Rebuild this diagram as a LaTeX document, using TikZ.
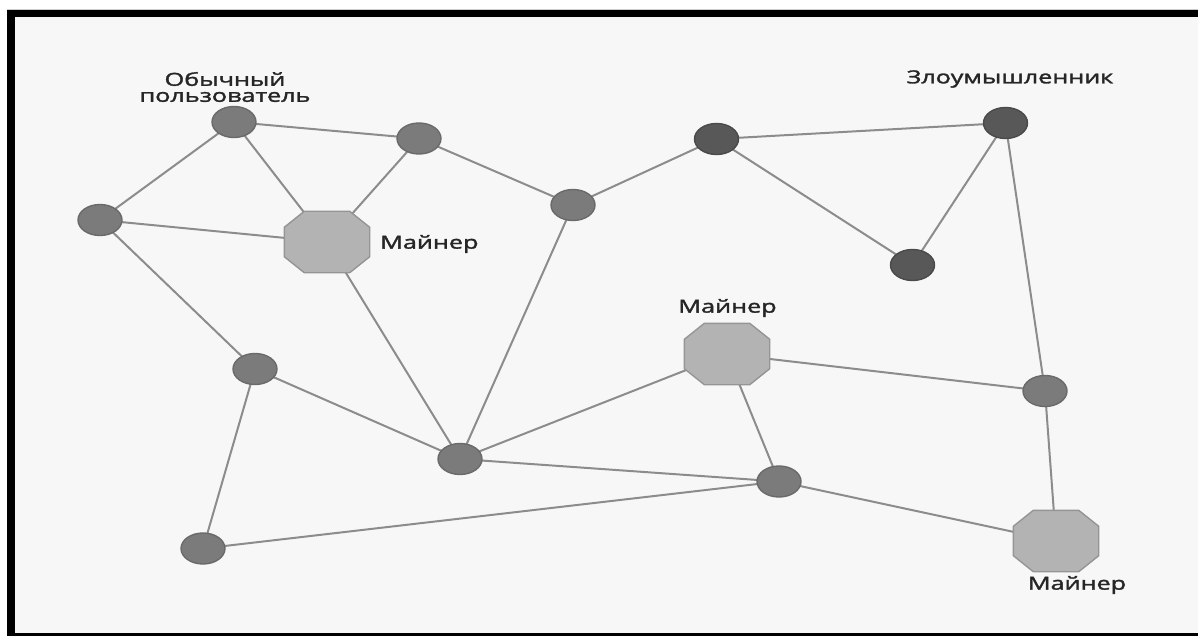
\documentclass[tikz,border=0pt]{standalone}
\usepackage{fontspec}
\setmainfont{Open Sans}
\newfontfamily\labelfont[FakeBold=1.6]{Open Sans}
\usepackage{graphicx}
\usetikzlibrary{shapes.geometric,backgrounds}

\definecolor{paper}{HTML}{F7F7F7}
\definecolor{peerfill}{HTML}{7B7B7B}
\definecolor{peerline}{HTML}{6A6A6A}
\definecolor{evilfill}{HTML}{585858}
\definecolor{evilline}{HTML}{4A4A4A}
\definecolor{minefill}{HTML}{B3B3B3}
\definecolor{mineline}{HTML}{959595}
\definecolor{linkc}{HTML}{8C8C8C}
\definecolor{inkc}{HTML}{262626}

\newcommand\widetext[1]{\scalebox{1.4}[1]{#1}}

\tikzset{
  peer/.style={ellipse, minimum width=44pt, minimum height=31pt, inner sep=0pt,
    fill=peerfill, draw=peerline, line width=1.4pt},
  evil/.style={peer, fill=evilfill, draw=evilline},
  miner/.style={rectangle, minimum width=85pt, minimum height=61pt, inner sep=0pt},
  octo/.style={fill=minefill, draw=mineline, line width=1.4pt, line join=round},
  link/.style={draw=linkc, line width=2pt},
  tag/.style={text=inkc, font=\labelfont\fontsize{18}{16}\selectfont, inner sep=0pt}
}

\begin{document}
\begin{tikzpicture}[x=1pt,y=-1pt]
  \useasboundingbox (0,0) rectangle (1198,636);

  % ordinary peers
  \node[peer] (u) at (234,122) {};
  \node[peer] (a) at (419,138.5) {};
  \node[peer] (l) at (100,220) {};
  \node[peer] (b) at (573,205) {};
  \node[peer] (f) at (1045,391) {};
  \node[peer] (g) at (255,369) {};
  \node[peer] (h) at (460,459) {};
  \node[peer] (i) at (779,481.5) {};
  \node[peer] (j) at (203,548.5) {};
  % attacker's peers
  \node[evil] (c) at (716.5,139) {};
  \node[evil] (d) at (1005.5,123) {};
  \node[evil] (e) at (912.5,265) {};
  % miners: octagonal bodies drawn on their frames
  \node[miner] (m1) at (327,242) {};
  \node[miner] (m2) at (727,354) {};
  \node[miner] (m3) at (1056,541) {};
  \foreach \m in {m1,m2,m3}
    \filldraw[octo] ([xshift=20pt]\m.north west) -- ([xshift=-20pt]\m.north east)
      -- ([yshift=-16pt]\m.north east) -- ([yshift=16pt]\m.south east)
      -- ([xshift=-20pt]\m.south east) -- ([xshift=20pt]\m.south west)
      -- ([yshift=16pt]\m.south west) -- ([yshift=-16pt]\m.north west) -- cycle;

  % labels
  \node[tag, align=center] (tu) at (225,87) {\widetext{Обычный}\\\widetext{пользователь}};
  \node[tag, anchor=west] (t1) at (380,244) {\widetext{Майнер}};
  \node[tag] (t2) at (727.5,308) {\widetext{Майнер}};
  \node[tag] (t3) at (1077,585) {\widetext{Майнер}};
  \node[tag] (td) at (1010,79) {\widetext{Злоумышленник}};

  \begin{scope}[on background layer]
    % frame
    \draw[gray!40, line width=0.8pt] (7,9) -- (1198,9);
    \fill[black] (7,10) rectangle (1198,636);
    \fill[paper] (15,17) rectangle (1198,633);
    % links
    \foreach \p/\q in {u/a, u/l, u/m1, a/m1, a/b, l/m1, l/g, b/c, b/h,
                       c/d, c/e, d/e, d/f, m1/h, g/h, g/j, h/m2, h/i,
                       m2/i, m2/f, f/m3, i/m3, j/i}
      \draw[link] (\p.center) -- (\q.center);
  \end{scope}
\end{tikzpicture}
\end{document}
